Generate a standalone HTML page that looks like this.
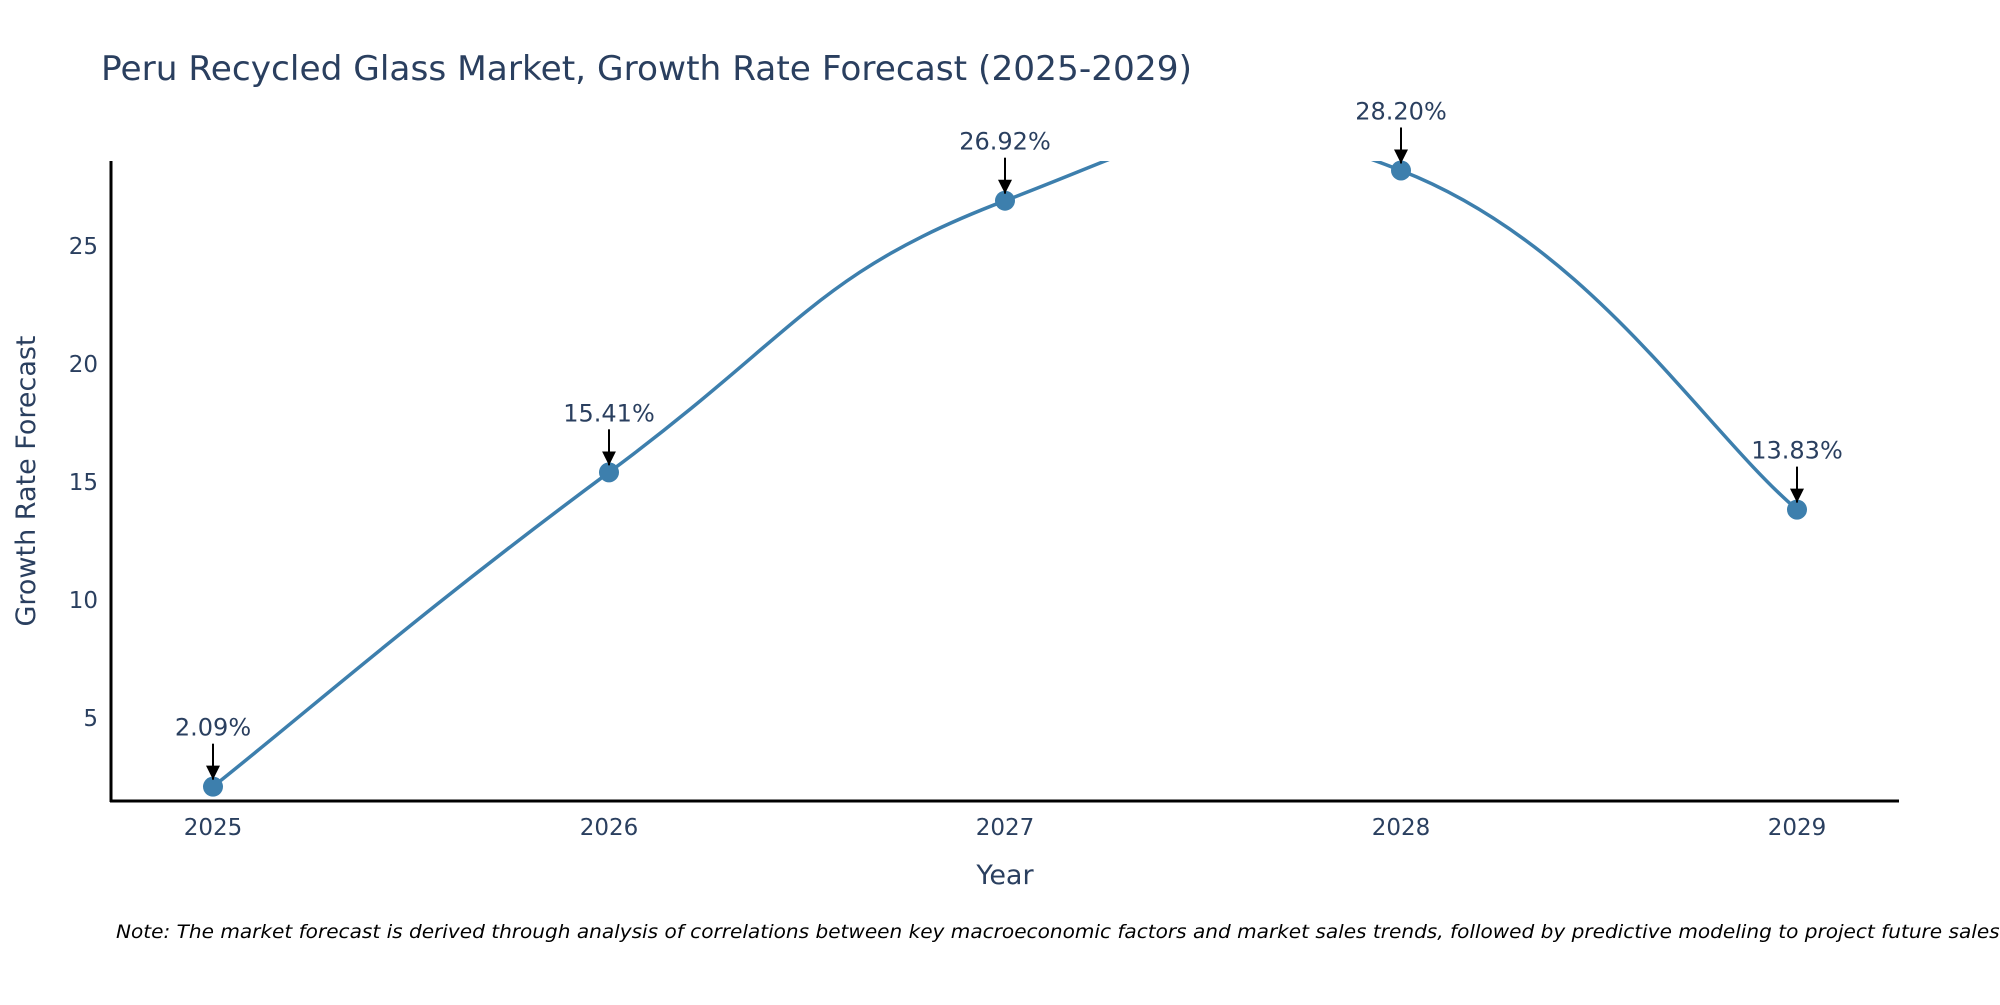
<!DOCTYPE html>
<html><head><meta charset="utf-8"><style>
html,body{margin:0;padding:0;background:#fff}
svg text{font-family:"DejaVu Sans","Liberation Sans",sans-serif}
</style></head><body>
<svg id="chart" width="2000" height="1000" viewBox="0 0 2000 1000" xmlns="http://www.w3.org/2000/svg">
<defs>
<clipPath id="plotclip"><rect x="111" y="161" width="1788" height="640"/></clipPath>
<marker id="arrowhead" markerWidth="14" markerHeight="14" refX="7" refY="14" orient="0" markerUnits="userSpaceOnUse" viewBox="0 0 14 14"><path d="M0,0 L14,0 L7,14 z" fill="#000"/></marker>
</defs>
<text x="101" y="80" font-size="34" fill="#2a3f5f" textLength="1091" lengthAdjust="spacingAndGlyphs">Peru Recycled Glass Market, Growth Rate Forecast (2025-2029)</text>
<g id="yticks"></g>
<g id="xticks"></g>
<line x1="111" y1="161" x2="111" y2="802" stroke="#000" stroke-width="3"/>
<line x1="110" y1="801" x2="1899" y2="801" stroke="#000" stroke-width="3"/>
<g clip-path="url(#plotclip)"><path id="series-line" fill="none" stroke="#3d7fad" stroke-width="3.5"/></g>
<g id="points"></g>
<g id="annos"></g>
<text x="1005" y="884" font-size="27" fill="#2a3f5f" text-anchor="middle">Year</text>
<text transform="translate(35,481) rotate(-90)" font-size="27" fill="#2a3f5f" text-anchor="middle">Growth Rate Forecast</text>
<text x="116" y="938" font-size="19" font-style="italic" fill="#000" textLength="1890" lengthAdjust="spacingAndGlyphs">Note: The market forecast is derived through analysis of correlations between key macroeconomic factors and market sales trends, followed by predictive modeling to project future sales.</text>
</svg>
<script>
const years = [2025, 2026, 2027, 2028, 2029];
const growthValues = [2.09, 15.41, 26.92, 28.20, 13.83];
const valueLabels = ["2.09%", "15.41%", "26.92%", "28.20%", "13.83%"];
const yTickValues = [5, 10, 15, 20, 25];

const NS = "http://www.w3.org/2000/svg";
function xScale(yr){ return 213 + (yr - 2025) * 396; }
function yScale(v){ return 718 - (v - 5) * 23.6; }
function mk(tag, attrs, parent){ const e = document.createElementNS(NS, tag); for (const k in attrs) e.setAttribute(k, attrs[k]); parent.appendChild(e); return e; }

const yt = document.getElementById('yticks');
yTickValues.forEach(v => {
  const t = mk('text', {x: 98, y: yScale(v) + 8, 'font-size': 23, fill: '#2a3f5f', 'text-anchor': 'end'}, yt);
  
  
  t.textContent = v;
});
const xt = document.getElementById('xticks');
years.forEach(yr => {
  const t = mk('text', {x: xScale(yr), y: 835, 'font-size': 23, fill: '#2a3f5f', 'text-anchor': 'middle'}, xt);
  
  
  t.textContent = yr;
});

const pts = years.map((yr, i) => [xScale(yr), yScale(growthValues[i])]);
let d = `M${pts[0][0]},${pts[0][1]}`;
const s = 0.24;
for (let i = 0; i < pts.length - 1; i++) {
  const p0 = pts[i - 1] || pts[i], p1 = pts[i], p2 = pts[i + 1], p3 = pts[i + 2] || pts[i + 1];
  const c1 = [p1[0] + (p2[0] - p0[0]) * s, p1[1] + (p2[1] - p0[1]) * s];
  const c2 = [p2[0] - (p3[0] - p1[0]) * s, p2[1] - (p3[1] - p1[1]) * s];
  d += ` C${c1[0]},${c1[1]} ${c2[0]},${c2[1]} ${p2[0]},${p2[1]}`;
}
document.getElementById('series-line').setAttribute('d', d);

const pg = document.getElementById('points');
const ag = document.getElementById('annos');
pts.forEach((p, i) => {
  const c = mk('circle', {cx: p[0], cy: p[1], r: 10, fill: '#3d7fad'}, pg);
  
  
  const a = mk('line', {x1: p[0], y1: p[1] - 43, x2: p[0], y2: p[1] - 7, stroke: '#000', 'stroke-width': 2, 'marker-end': 'url(#arrowhead)'}, ag);
  
  
  const t = mk('text', {x: p[0], y: p[1] - 51, 'font-size': 24, fill: '#2a3f5f', 'text-anchor': 'middle'}, ag);
  
  
  t.textContent = valueLabels[i];
});
</script>
</body></html>
